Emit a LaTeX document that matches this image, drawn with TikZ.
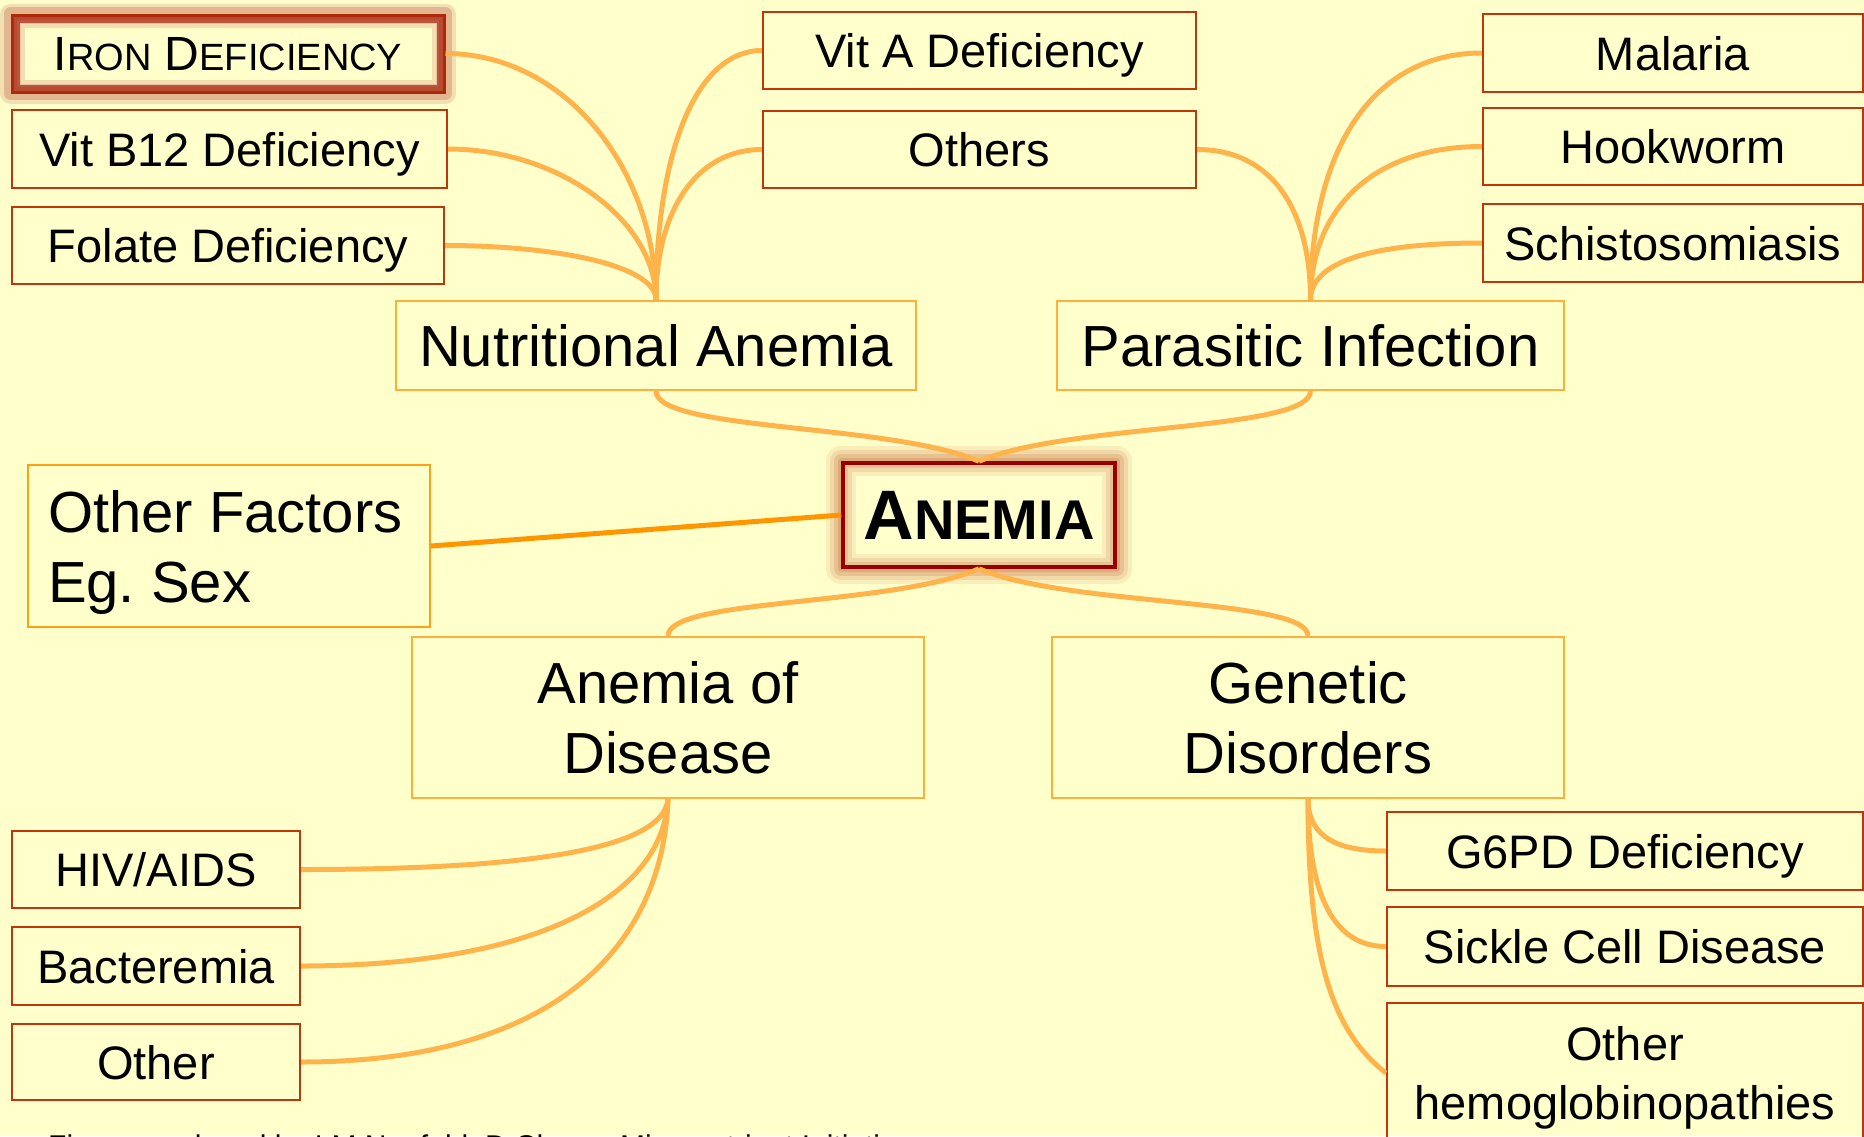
\documentclass[tikz,border=0pt]{standalone}
\usepackage{fontspec}
\setmainfont{Liberation Sans}
\definecolor{bgc}{RGB}{255,255,204}
\definecolor{leafc}{RGB}{190,55,10}
\definecolor{branchc}{RGB}{255,175,60}
\definecolor{ofc}{RGB}{255,160,20}
\definecolor{linkc}{RGB}{255,180,75}
\definecolor{oflink}{RGB}{255,150,0}
\definecolor{anc}{RGB}{150,0,0}
\definecolor{anglow}{RGB}{200,115,65}
\definecolor{irglow}{RGB}{170,40,20}
\definecolor{irc}{RGB}{175,40,10}
\pgfdeclarelayer{bglayer}
\pgfsetlayers{bglayer,main}
\newcommand{\smc}[1]{{\fontsize{38}{40}\selectfont #1}}
\newcommand{\smcb}[1]{{\fontsize{56}{60}\selectfont #1}}
\tikzset{
  leaf/.style={draw=leafc, line width=2.2pt, inner sep=0pt, minimum height=77pt, text depth=0pt, font=\fontsize{47}{59}\selectfont, align=center},
  ironbox/.style={leaf, draw=irc, line width=3pt, font=\fontsize{48}{59}\selectfont},
  branch/.style={draw=branchc, line width=2pt, inner sep=0pt, text depth=0pt, font=\fontsize{58}{70}\selectfont, align=center},
  ofbox/.style={draw=ofc, line width=2pt, inner xsep=20pt, inner ysep=0pt, font=\fontsize{58}{70}\selectfont\frenchspacing, align=flush left, text width=362pt, minimum height=162pt},
  anbox/.style={draw=anc, line width=3.5pt, inner sep=0pt, font=\bfseries\fontsize{70}{80}\selectfont},
  link/.style={draw=linkc, line width=5pt},
  oflinkst/.style={draw=oflink, line width=5pt},
  glowA/.style={draw=anglow, line join=round},
  glowI/.style={draw=irglow, line join=round},
  capst/.style={font=\fontsize{30}{36}\selectfont, anchor=base west, inner sep=0pt}
}
\begin{document}
\begin{tikzpicture}[x=1pt,y=-1pt]
\useasboundingbox (0,0) rectangle (1864,1136);
\begin{pgfonlayer}{bglayer}
\fill[bgc] (0,0) rectangle (1864,1136);
\end{pgfonlayer}

% nodes
\node[ironbox, minimum width=432pt] (iron) at (228,53.5) {I\smc{RON} D\smc{EFICIENCY}};
\node[leaf, minimum width=435pt, minimum height=78pt] (b12) at (229.5,149) {Vit B12 Deficiency};
\node[leaf, minimum width=432pt] (fol) at (228,245.5) {Folate Deficiency};
\node[leaf, minimum width=433pt] (vita) at (979.5,50.5) {Vit A Deficiency};
\node[leaf, minimum width=433pt] (oth) at (979.5,149.5) {Others};
\node[leaf, minimum width=380pt, minimum height=78pt] (mal) at (1673,53) {Malaria};
\node[leaf, minimum width=380pt] (hook) at (1673,146.5) {Hookworm};
\node[leaf, minimum width=380pt, minimum height=78pt] (schis) at (1673,243) {Schistosomiasis};
\node[branch, minimum width=520pt, minimum height=89pt] (nut) at (656,345.5) {Nutritional Anemia};
\node[branch, minimum width=507pt, minimum height=89pt] (par) at (1310.5,345.5) {Parasitic Infection};
\node[anbox, minimum width=272pt, minimum height=104pt] (an) at (979,515) {A\smcb{NEMIA}};
\node[ofbox] (of) at (229,546) {\rule{0pt}{56pt}Other Factors\\Eg. Sex};
\node[branch, minimum width=512pt, minimum height=161pt] (aod) at (668,717.5) {Anemia of\\Disease};
\node[branch, minimum width=512pt, minimum height=161pt] (gen) at (1308,717.5) {Genetic\\Disorders};
\node[leaf, minimum width=288pt] (hiv) at (156,869.5) {HIV/AIDS};
\node[leaf, minimum width=288pt, minimum height=78pt] (bac) at (156,966) {Bacteremia};
\node[leaf, minimum width=288pt, minimum height=76pt] (otr) at (156,1062) {Other};
\node[leaf, minimum width=476pt, minimum height=78pt] (g6) at (1625,851) {G6PD Deficiency};
\node[leaf, minimum width=476pt, minimum height=79pt] (sic) at (1625,946.5) {Sickle Cell Disease};
\node[leaf, minimum width=476pt, minimum height=140pt] (hem) at (1625,1073) {Other\\hemoglobinopathies};
\node[capst] (cap) at (48,1156) {Figure produced by LM Neufeld, D Cheng, Micronutrient Initiative};

% glows
\begin{pgfonlayer}{bglayer}
\foreach \w/\o in {30/0.12,22/0.16,14/0.22,7/0.3}{
  \draw[glowA, line width=\w pt, opacity=\o] (an.north west) rectangle (an.south east);
}
\foreach \w/\o in {20/0.14,13/0.22}{
  \draw[glowI, line width=\w pt, opacity=\o] (iron.north west) rectangle (iron.south east);
}
\draw[glowI, line width=9pt, opacity=0.7] ([shift={(4.5,4.5)}]iron.north west) rectangle ([shift={(-4.5,-4.5)}]iron.south east);
\draw[glowI, line width=14pt, opacity=0.15] ([shift={(7,7)}]iron.north west) rectangle ([shift={(-7,-7)}]iron.south east);
\end{pgfonlayer}

% links: nutritional
\draw[link] (iron.east) .. controls +(120,0) and +(0,-130) .. (nut.north);
\draw[link] (b12.east) .. controls +(110,0) and +(0,-80) .. (nut.north);
\draw[link] (fol.east) .. controls +(110,0) and +(0,-35) .. (nut.north);
\draw[link] (vita.west) .. controls +(-65,0) and +(0,-150) .. (nut.north);
\draw[link] (oth.west) .. controls +(-65,0) and +(0,-90) .. (nut.north);
% parasitic
\draw[link] (oth.east) .. controls +(75,0) and +(0,-90) .. (par.north);
\draw[link] (mal.west) .. controls +(-110,0) and +(0,-150) .. (par.north);
\draw[link] (hook.west) .. controls +(-110,0) and +(0,-90) .. (par.north);
\draw[link] (schis.west) .. controls +(-120,0) and +(0,-35) .. (par.north);
% to anemia
\draw[link] (nut.south) .. controls +(0,40) and +(-89,-38) .. (an.north);
\draw[link] (par.south) .. controls +(0,40) and +(89,-38) .. (an.north);
\draw[link] (an.south) .. controls +(-89,38) and +(0,-38) .. (aod.north);
\draw[link] (an.south) .. controls +(89,38) and +(0,-38) .. (gen.north);
\draw[oflinkst] (of.east) -- (an.west);
% disease
\draw[link] (aod.south) .. controls +(-5,55) and +(200,0) .. (hiv.east);
\draw[link] (aod.south) .. controls +(-5,100) and +(230,0) .. (bac.east);
\draw[link] (aod.south) .. controls +(-5,150) and +(250,0) .. (otr.east);
% genetic
\draw[link] (gen.south) .. controls +(0,40) and +(-45,0) .. (g6.west);
\draw[link] (gen.south) .. controls +(0,100) and +(-50,0) .. (sic.west);
\draw[link] (gen.south) .. controls +(0,170) and +(-50,-40) .. (hem.west);
\end{tikzpicture}
\end{document}
